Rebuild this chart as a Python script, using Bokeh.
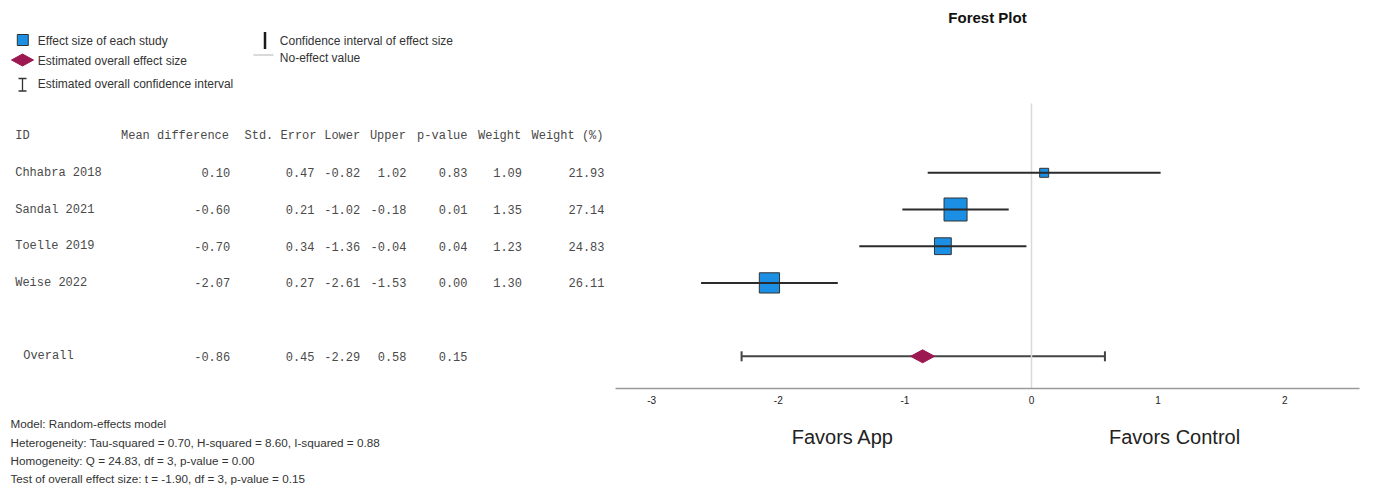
from bokeh.plotting import figure
from bokeh.models import Range1d, LinearAxis, FixedTicker, Whisker, ColumnDataSource, TeeHead
from bokeh.embed import file_html
from bokeh.resources import INLINE
from bokeh.core.properties import value

# ---------------- data ----------------
studies = ["Chhabra 2018", "Sandal 2021", "Toelle 2019", "Weise 2022"]
mean_diff = [0.10, -0.60, -0.70, -2.07]
std_err = [0.47, 0.21, 0.34, 0.27]
lower = [-0.82, -1.02, -1.36, -2.61]
upper = [1.02, -0.18, -0.04, -1.53]
p_value = [0.83, 0.01, 0.04, 0.00]
weight = [1.09, 1.35, 1.23, 1.30]
weight_pct = [21.93, 27.14, 24.83, 26.11]

overall_label = "Overall"
overall_mean = -0.86
overall_se = 0.45
overall_lower = -2.29
overall_upper = 0.58
overall_p = 0.15

header_labels = ["Mean difference", "Std. Error", "Lower", "Upper", "p-value", "Weight", "Weight (%)"]
x_ticks = [-3, -2, -1, 0, 1, 2]
favor_labels = ["Favors App", "Favors Control"]

legend_labels = ["Effect size of each study", "Estimated overall effect size",
                 "Estimated overall confidence interval",
                 "Confidence interval of effect size", "No-effect value"]
footer_lines = [
    "Model: Random-effects model",
    "Heterogeneity: Tau-squared = 0.70, H-squared = 8.60, I-squared = 0.88",
    "Homogeneity: Q = 24.83, df = 3, p-value = 0.00",
    "Test of overall effect size: t = -1.90, df = 3, p-value = 0.15",
]

# ---------------- layout constants ----------------
W, H = 1378, 486
BLUE = "#1a8fe3"
MAROON = "#9c1850"
XU = 126.6          # pixels per effect-size unit
X0 = 1031           # pixel position of zero
ROW0 = 172.3        # pixel position of first study row
STEP = 36.7         # pixels per row
OVERALL_IDX = 5
AX_LO = (615 - X0) / XU
AX_HI = (1359 - X0) / XU
AX_Y = (388 - ROW0) / STEP
SANS = value("Liberation Sans")
MONO = value("Liberation Mono")

p = figure(width=W, height=H,
           x_range=Range1d(-X0 / XU, (W - X0) / XU),
           y_range=Range1d((H - ROW0) / STEP, -ROW0 / STEP),
           output_backend="svg", toolbar_location=None, x_axis_type=None, y_axis_type=None,
           min_border=0, min_border_left=0, min_border_right=0, min_border_top=0, min_border_bottom=0)
p.outline_line_color = None
p.extra_x_ranges = {"px": Range1d(0, W)}
p.extra_y_ranges = {"py": Range1d(H, 0)}
PX = dict(x_range_name="px", y_range_name="py")

# ================= legend =================
p.scatter([22.3], [39.5], marker="square", size=11, fill_color=BLUE, line_color="#333333", line_width=1, **PX)
p.patch([11, 22, 33, 22], [59.5, 53.5, 59.5, 65.5], fill_color=MAROON, line_color=MAROON, **PX)
p.segment([22, 18, 18], [78, 78, 90.5], [22, 26, 26], [90.5, 78, 90.5], line_color="#333333", line_width=1.3, **PX)
p.segment([264.5], [31.5], [264.5], [48.5], line_color="#1a1a1a", line_width=2.5, **PX)
p.segment([253], [54.5], [273], [54.5], line_color="#cccccc", line_width=1.5, **PX)
p.text([37.3, 37.3, 37.3, 279.3, 279.3], [40, 60, 83.5, 40, 57.3], text=legend_labels,
       text_font=SANS, text_font_size="12px", text_color="#333333",
       text_align="left", text_baseline="middle", **PX)

# ================= table =================
header_y = 135
col_hdr_right = [228.5, 316, 359.7, 405.4, 467, 520.7, 603]
col_val_right = [229.7, 314, 359.7, 406, 467, 521.5, 604]
tbl = dict(text_font=MONO, text_font_size="12px", text_color="#4a4a4a", text_baseline="middle", **PX)
p.text([14.7], [header_y], text=["ID"], text_align="left", **tbl)
p.text(col_hdr_right, [header_y] * len(header_labels), text=header_labels, text_align="right", **tbl)

row_y = [ROW0 + STEP * i for i in range(len(studies))]
p.text([14.7] * len(studies), row_y, text=studies, text_align="left", **tbl)
columns = [mean_diff, std_err, lower, upper, p_value, weight, weight_pct]
for cx, col in zip(col_val_right, columns):
    p.text([cx] * len(col), row_y, text=[f"{v:.2f}" for v in col], text_align="right", **tbl)

ov_y = ROW0 + STEP * OVERALL_IDX
p.text([22.7], [ov_y], text=[overall_label], text_align="left", **tbl)
ov_vals = [overall_mean, overall_se, overall_lower, overall_upper, overall_p]
p.text(col_val_right[:5], [ov_y] * 5, text=[f"{v:.2f}" for v in ov_vals], text_align="right", **tbl)

# ================= footer =================
p.text([10] * 4, [422.5, 441.5, 460, 477.5], text=footer_lines, text_font=SANS, text_font_size="11.7px",
       text_color="#333333", text_align="left", text_baseline="middle", **PX)

# ================= forest plot =================
ax = LinearAxis(ticker=FixedTicker(ticks=x_ticks), fixed_location=AX_Y, bounds=(AX_LO, AX_HI),
                major_label_overrides={t: str(t) for t in x_ticks},
                axis_line_color="#9a9a9a", axis_line_width=1.5,
                major_tick_line_color=None, minor_tick_line_color=None,
                major_tick_out=0, major_tick_in=0, minor_tick_out=0, minor_tick_in=0,
                major_label_text_font="Liberation Sans", major_label_text_font_size="10px",
                major_label_text_color="#222222", major_label_standoff=7)
p.add_layout(ax, "below")

favor_x = [-1.49, 1.13]
ax2 = LinearAxis(ticker=FixedTicker(ticks=favor_x), fixed_location=AX_Y, bounds=(AX_LO, AX_HI),
                 major_label_overrides=dict(zip(favor_x, favor_labels)),
                 axis_line_color=None, major_tick_line_color=None, minor_tick_line_color=None,
                 major_tick_out=0, major_tick_in=0, minor_tick_out=0, minor_tick_in=0,
                 major_label_text_font="Liberation Sans", major_label_text_font_size="20px",
                 major_label_text_color="#222222", major_label_standoff=37)
p.add_layout(ax2, "below")

# no-effect line
p.segment([0], [(103 - ROW0) / STEP], [0], [AX_Y], line_color="#d9d9d9", line_width=1.5)

idx = list(range(len(studies)))
sizes = [9 + 2.69 * (w - min(weight_pct)) for w in weight_pct]
p.scatter(mean_diff, idx, marker="square", size=sizes, fill_color=BLUE, line_color="#333333", line_width=1)
p.segment(lower, idx, upper, idx, line_color="#2b2b2b", line_width=2)

osrc = ColumnDataSource(dict(y=[OVERALL_IDX], lower=[overall_lower], upper=[overall_upper]))
p.add_layout(Whisker(source=osrc, base="y", lower="lower", upper="upper", dimension="width",
                     line_color="#444444", line_width=2,
                     upper_head=TeeHead(size=10, line_color="#444444", line_width=2),
                     lower_head=TeeHead(size=10, line_color="#444444", line_width=2)))
dx, dy = 12 / XU, 6.5 / STEP
p.patch([overall_mean - dx, overall_mean, overall_mean + dx, overall_mean],
        [OVERALL_IDX, OVERALL_IDX - dy, OVERALL_IDX, OVERALL_IDX + dy],
        fill_color=MAROON, line_color=MAROON)

p.text([(AX_LO + AX_HI) / 2], [(17 - ROW0) / STEP], text=["Forest Plot"], text_font=SANS,
       text_font_size="15px", text_font_style="bold", text_color="#111111",
       text_align="center", text_baseline="middle")

open("out.html", "w").write(file_html(p, INLINE))
